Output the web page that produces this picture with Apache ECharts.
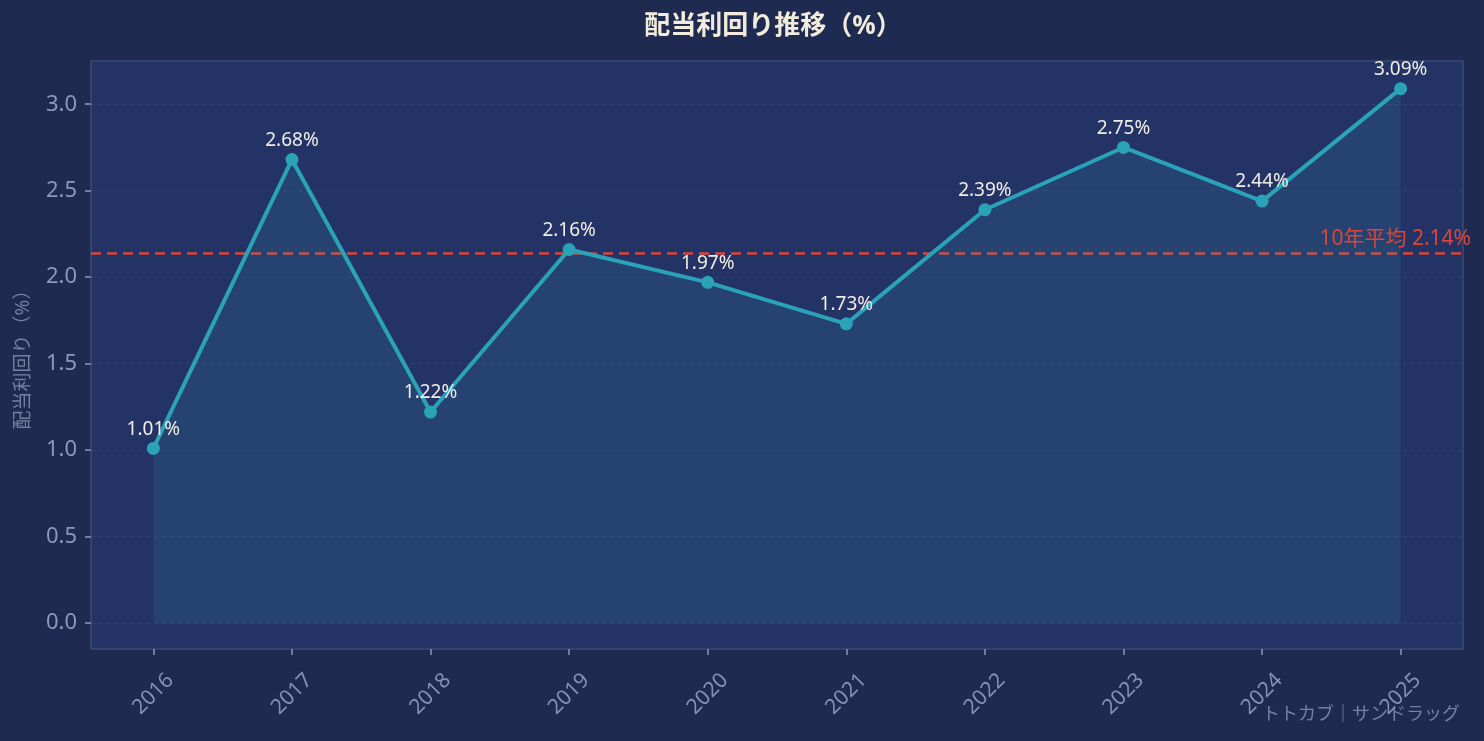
<!DOCTYPE html>
<html>
<head>
<meta charset="utf-8">
<script src="https://cdn.jsdelivr.net/npm/echarts@6/dist/echarts.min.js"></script>
<style>
  html, body { margin: 0; padding: 0; background: #1e2a50; }
  #chart { width: 1484px; height: 741px; }
</style>
</head>
<body>
<div id="chart"></div>
<script>
const years = ['2016', '2017', '2018', '2019', '2020', '2021', '2022', '2023', '2024', '2025'];
const yields = [1.01, 2.68, 1.22, 2.16, 1.97, 1.73, 2.39, 2.75, 2.44, 3.09];
const yTicks = [0, 0.5, 1.0, 1.5, 2.0, 2.5, 3.0];
const avgYield = 2.14;

const font = '"Noto Sans", "Noto Sans CJK JP", sans-serif';
const xIdx = years.map((y, i) => i);

const chart = echarts.init(document.getElementById('chart'));
chart.setOption({
    backgroundColor: '#1e2a50',
    textStyle: { fontFamily: font },
    title: {
        text: '配当利回り推移（%）',
        left: 768,
        textAlign: 'center',
        top: 9,
        textStyle: { color: '#f2ecdc', fontSize: 26, fontWeight: 'bold', fontFamily: font }
    },
    graphic: [{
        type: 'text',
        right: 24,
        top: 706,
        style: { text: 'トトカブ｜サンドラッグ', fill: '#74829f', font: '18px ' + font }
    }],
    grid: {
        left: 91, right: 21, top: 61, bottom: 92,
        show: true,
        backgroundColor: '#243366',
        borderColor: '#3b4b72',
        borderWidth: 1.5
    },
    xAxis: {
        type: 'value',
        min: -0.45,
        max: 9.45,
        axisLine: { show: false, onZero: false },
        splitLine: { show: false },
        axisTick: { show: true, customValues: xIdx, length: 6, lineStyle: { color: '#8a9ab5', width: 1.5 } },
        axisLabel: {
            customValues: xIdx,
            formatter: v => years[Math.round(v)],
            rotate: 45,
            align: 'center',
            verticalAlign: 'middle',
            color: '#8393b3',
            fontSize: 21,
            margin: 45,
            fontFamily: font
        }
    },
    yAxis: {
        type: 'value',
        min: -0.15,
        max: 3.25,
        name: '配当利回り（%）',
        nameLocation: 'middle',
        nameGap: 58,
        nameTextStyle: { color: '#74829f', fontSize: 19, fontFamily: font },
        axisLine: { show: false, onZero: false },
        axisTick: { show: true, customValues: yTicks, length: 6, lineStyle: { color: '#8a9ab5', width: 1.5 } },
        axisLabel: {
            customValues: yTicks,
            formatter: v => v.toFixed(1),
            color: '#8a9ab8',
            fontSize: 22,
            margin: 14,
            fontFamily: font
        },
        splitLine: { show: false }
    },
    series: [{
        type: 'line',
        data: yields.map((v, i) => [i, v]),
        symbol: 'circle',
        symbolSize: 13,
        lineStyle: { color: '#2aa3b8', width: 4 },
        itemStyle: { color: '#2aa3b8' },
        areaStyle: { origin: 0, color: 'rgba(42,163,184,0.19)' },
        label: {
            show: true,
            position: 'top',
            distance: 3,
            formatter: p => p.value[1].toFixed(2) + '%',
            color: '#f0ede5',
            fontSize: 19,
            fontFamily: font
        },
        z: 5,
        markLine: {
            silent: true,
            symbol: 'none',
            data: yTicks.map(t => ({ yAxis: t })),
            lineStyle: { color: 'rgba(120,140,180,0.18)', type: [4, 4], width: 1 },
            label: { show: false }
        }
    }, {
        type: 'line',
        data: [],
        markLine: {
            silent: true,
            symbol: 'none',
            data: [{ yAxis: avgYield }],
            lineStyle: { color: '#d9473a', type: [10, 6], width: 2.5 },
            label: {
                show: true,
                position: 'insideEndTop',
                formatter: '10年平均 ' + avgYield.toFixed(2) + '%',
                color: '#d9473a',
                fontSize: 21,
                fontFamily: font,
                distance: [0, 3],
                offset: [8, 0]
            }
        }
    }]
});
</script>
</body>
</html>
